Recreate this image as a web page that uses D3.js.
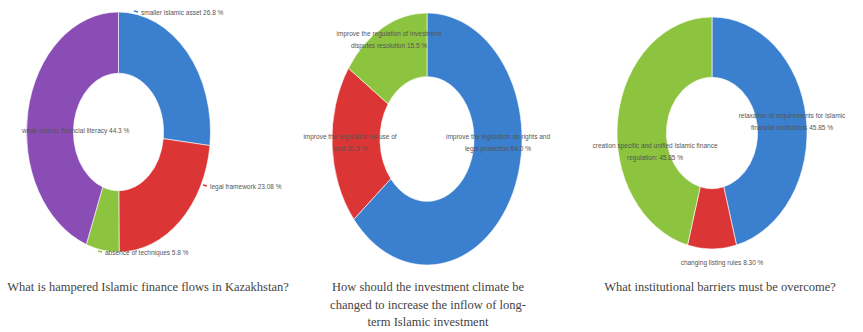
<!DOCTYPE html>
<html><head><meta charset="utf-8">
<script src="https://cdn.jsdelivr.net/npm/d3@7"></script>
<style>body{margin:0;background:#fff}svg{display:block}</style>
</head><body>
<script>
// ---- data ----
const c1Categories = ["smaller Islamic asset", "legal framework", "absence of techniques", "weak Islamic financial literacy"];
const c1Values = [26.8, 23.08, 5.8, 44.3];
const c1Title = ["What is hampered Islamic finance flows in Kazakhstan?"];

const c2Categories = ["improve the legislation on rights and legal protection", "improve the legislation on use of land", "improve the regulation of investment disputes resolution"];
const c2Values = [64.0, 20.5, 15.5];
const c2Title = ["How should the investment climate be", "changed to increase the inflow of long-", "term Islamic investment"];

const c3Categories = ["relaxation of requirements for Islamic financial institutions", "changing listing rules", "creation specific and unified Islamic finance regulation:"];
const c3Values = [45.85, 8.30, 45.85];
const c3Title = ["What institutional barriers must be overcome?"];

// ---- styles / layout ----
const BLUE = "#3b7fcf", RED = "#dc3535", GREEN = "#8cc43f", PURPLE = "#8a4db6";
const W = 863, H = 332;
const svg = d3.select("body").append("svg").attr("width", W).attr("height", H);

const charts = [
  { cats: c1Categories, vals: c1Values, colors: [BLUE, RED, GREEN, PURPLE], title: c1Title,
    cx: 118.5, cy: 132, rx: 92, ry: 120, inner: 0.49, titleX: 148,
    labels: [
      { x: 141, y: 15, anchor: "start", split: 99, mark: true, dec: 1 },
      { x: 210, y: 189, anchor: "start", split: 99, mark: true, dec: 2 },
      { x: 105, y: 255, anchor: "start", split: 99, mark: true, dec: 1 },
      { x: 22, y: 133, anchor: "start", split: 99, mark: false, dec: 1 }
    ] },
  { cats: c2Categories, vals: c2Values, colors: [BLUE, RED, GREEN], title: c2Title,
    cx: 427, cy: 139, rx: 95, ry: 126, inner: 0.495, titleX: 428,
    labels: [
      { x: 498, y: 139, anchor: "middle", split: 6, mark: false, dec: 1 },
      { x: 350, y: 139, anchor: "middle", split: 6, mark: false, dec: 1 },
      { x: 389, y: 36, anchor: "middle", split: 5, mark: false, dec: 1 }
    ] },
  { cats: c3Categories, vals: c3Values, colors: [BLUE, RED, GREEN], title: c3Title,
    cx: 712, cy: 133, rx: 95, ry: 116, inner: 0.48, titleX: 720,
    labels: [
      { x: 792, y: 118, anchor: "middle", split: 5, mark: false, dec: 2 },
      { x: 722, y: 265, anchor: "middle", split: 99, mark: false, dec: 2 },
      { x: 655, y: 148, anchor: "middle", split: 6, mark: false, dec: 2 }
    ] }
];

const R = 100;
charts.forEach(ch => {
  const pie = d3.pie().sort(null).value(d => d)(ch.vals);
  const arc = d3.arc().innerRadius(R * ch.inner).outerRadius(R);
  const g = svg.append("g")
    .attr("transform", `translate(${ch.cx},${ch.cy}) scale(${ch.rx / R},${ch.ry / R})`);
  g.selectAll("path").data(pie).join("path")
    .attr("d", arc)
    .attr("fill", (d, i) => ch.colors[i])
    .attr("stroke", "#fff").attr("stroke-width", 0.6)
    .attr("vector-effect", "non-scaling-stroke");

  // labels
  ch.labels.forEach((lb, i) => {
    const words = (ch.cats[i] + " " + ch.vals[i].toFixed(lb.dec) + " %").split(" ");
    const lines = lb.split >= words.length ? [words.join(" ")]
      : [words.slice(0, lb.split).join(" "), words.slice(lb.split).join(" ")];
    const t = svg.append("text")
      .attr("x", lb.x).attr("y", lb.y)
      .attr("text-anchor", lb.anchor)
      .attr("font-family", "Liberation Sans, Arial, sans-serif")
      .attr("font-size", 6.5).attr("fill", "#555");
    lines.forEach((ln, k) => t.append("tspan").attr("x", lb.x).attr("dy", k ? 11.5 : 0).text(ln));
    if (lb.mark) {
      svg.append("line")
        .attr("x1", lb.x - 7).attr("y1", lb.y - 4).attr("x2", lb.x - 3).attr("y2", lb.y - 3)
        .attr("stroke", ch.colors[i]).attr("stroke-width", 1.5);
    }
  });

  // title
  const tt = svg.append("text")
    .attr("x", ch.titleX).attr("y", 291)
    .attr("text-anchor", "middle")
    .attr("font-family", "Liberation Serif, Times New Roman, serif")
    .attr("font-size", 12.5).attr("fill", "#444");
  ch.title.forEach((ln, k) => tt.append("tspan").attr("x", ch.titleX).attr("dy", k ? 17.5 : 0).text(ln));
});
</script>
</body></html>
